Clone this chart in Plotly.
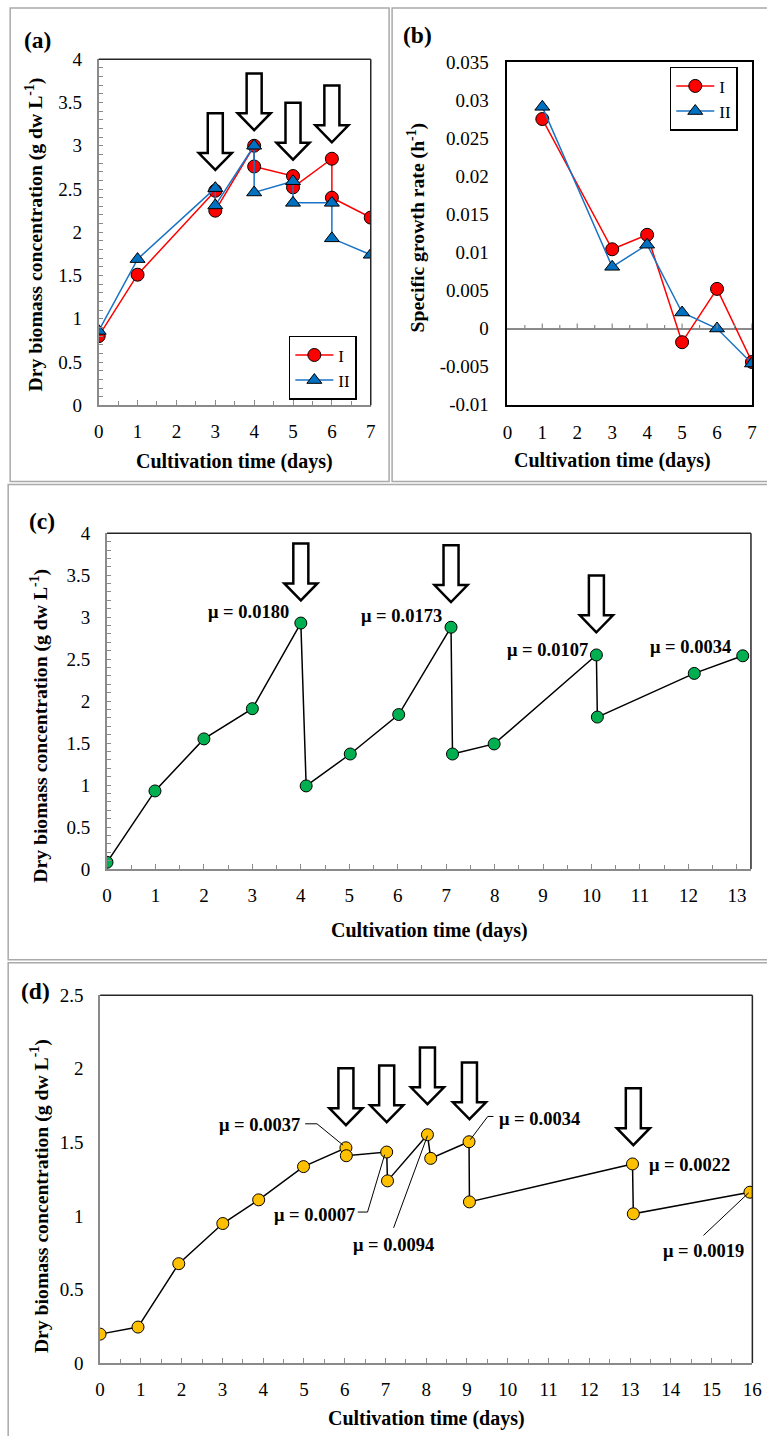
import numpy as np
import plotly.graph_objects as go

# Measured from earlier renders: the captured picture spans the figure plus an
# 8 px page margin on a 783x1452 area that is then fitted to 767x1436.
REF_W, REF_H = 767, 1436
OFF = 8
SX, SY = (REF_W + 2 * OFF) / REF_W, (REF_H + 2 * OFF) / REF_H
W, H = REF_W + OFF, REF_H + OFF
FONT = "Liberation Serif"
AXGRAY = "#8a8a8a"
FRAMEGRAY = "#a9a9a9"

# ---------------- data ----------------
# (a) dry biomass, two runs
a_days_I = [0, 1, 3, 3, 4, 4, 5, 5, 6, 6, 7]
a_bio_I = [0.80, 1.51, 2.48, 2.25, 3.00, 2.76, 2.65, 2.52, 2.85, 2.40, 2.17]
a_days_II = [0, 1, 3, 3, 4, 4, 5, 5, 6, 6, 7]
a_bio_II = [0.86, 1.69, 2.51, 2.31, 3.00, 2.46, 2.59, 2.34, 2.34, 1.93, 1.74]
a_arrow_days = [3, 4, 5, 6]
a_arrow_tip = [2.72, 3.18, 2.84, 3.04]

# (b) specific growth rate
b_days = [1, 3, 4, 5, 6, 7]
b_mu_I = [0.0275, 0.0104, 0.0123, -0.0018, 0.0052, -0.0044]
b_mu_II = [0.0291, 0.0081, 0.0110, 0.0021, 0.0000, -0.0046]

# (c) repeated batch
c_days = [0, 0.99, 2.0, 3.0, 4.0, 4.11, 5.02, 6.02, 7.1, 7.13, 7.99, 10.1, 10.12, 12.12, 13.12]
c_bio = [0.08, 0.93, 1.55, 1.91, 2.93, 0.99, 1.37, 1.84, 2.88, 1.37, 1.49, 2.55, 1.81, 2.33, 2.54]
c_arrow_days = [4.0, 7.1, 10.1]
c_arrow_tip = [3.20, 3.18, 2.82]
c_mu_labels = ["μ = 0.0180", "μ = 0.0173", "μ = 0.0107", "μ = 0.0034"]
c_mu_x = [2.93, 6.07, 9.09, 12.05]
c_mu_y = [3.06, 3.01, 2.61, 2.64]

# (d) repeated batch
d_days = [0, 0.93, 1.93, 3.01, 3.89, 4.99, 6.03, 6.04, 7.03, 7.05, 8.03, 8.11, 9.05, 9.06,
          13.06, 13.08, 15.94]
d_bio = [0.196, 0.244, 0.675, 0.948, 1.109, 1.335, 1.463, 1.409, 1.434, 1.238, 1.552, 1.391,
         1.504, 1.095, 1.353, 1.014, 1.161]
d_arrow_days = [6.03, 7.03, 8.03, 9.06, 13.08]
d_arrow_tip = [1.617, 1.637, 1.759, 1.657, 1.481]
d_mu_labels = ["μ = 0.0037", "μ = 0.0007", "μ = 0.0094", "μ = 0.0034", "μ = 0.0022", "μ = 0.0019"]
d_mu_x = [3.91, 5.25, 7.20, 10.77, 14.46, 14.81]
d_mu_y = [1.617, 1.006, 0.804, 1.658, 1.346, 0.763]
# leader lines (text -> point)
d_leaders = [
    [(5.03, 1.626), (5.32, 1.626), (5.96, 1.481)],
    [(6.32, 1.026), (6.56, 1.026), (6.98, 1.416)],
    [(7.20, 0.919), (8.03, 1.545)],
    [(9.65, 1.676), (9.51, 1.676), (9.08, 1.518)],
    [(14.80, 0.867), (15.91, 1.157)],
]

# tick labels
x_ticks_a = list(range(0, 8))
y_ticks_a = [0, 0.5, 1, 1.5, 2, 2.5, 3, 3.5, 4]
y_text_a = ["0", "0.5", "1", "1.5", "2", "2.5", "3", "3.5", "4"]
y_ticks_b = [-0.01, -0.005, 0, 0.005, 0.01, 0.015, 0.02, 0.025, 0.03, 0.035]
y_text_b = ["-0.01", "-0.005", "0", "0.005", "0.01", "0.015", "0.02", "0.025", "0.03", "0.035"]
x_ticks_c = list(range(0, 14))
x_ticks_d = list(range(0, 17))
y_ticks_d = [0, 0.5, 1, 1.5, 2, 2.5]
y_text_d = ["0", "0.5", "1", "1.5", "2", "2.5"]

# ---------------- geometry (reference-picture pixels) ----------------
G = {
    "a": dict(L=101.3, R=372.7, T=57.3, B=404.7, xr=[0, 7], yr=[0, 4]),
    "b": dict(L=509, R=753, T=60, B=404, xr=[0, 7], yr=[-0.01, 0.035]),
    "c": dict(L=109.6, R=752, T=533, B=870, xr=[0, 13.29], yr=[0, 4]),
    "d": dict(L=102.7, R=753.4, T=996.7, B=1365.7, xr=[0, 16], yr=[0, 2.5]),
}


def px(p):
    return (p * SX - OFF) / W


def py(p):
    return 1 - (p * SY - OFF) / H


def scales(g):
    xs = (g["xr"][1] - g["xr"][0]) / ((g["R"] - g["L"]) * SX)
    ys = (g["yr"][1] - g["yr"][0]) / ((g["B"] - g["T"]) * SY)
    return xs, ys


tickfont = dict(family=FONT, size=19, color="black")

fig = go.Figure()

# (a)
fig.add_trace(go.Scatter(x=a_days_I, y=a_bio_I, mode="lines+markers", name="I",
                         line=dict(color="#ff0000", width=1.5),
                         marker=dict(symbol="circle", size=13, color="#ff0000",
                                     line=dict(color="black", width=1)),
                         xaxis="x", yaxis="y", legend="legend"))
fig.add_trace(go.Scatter(x=a_days_II, y=a_bio_II, mode="lines+markers", name="II",
                         line=dict(color="#1a73c4", width=1.5),
                         marker=dict(symbol="triangle-up", size=13, color="#0070c0",
                                     line=dict(color="black", width=1)),
                         xaxis="x", yaxis="y", legend="legend"))
# (b)
fig.add_trace(go.Scatter(x=b_days, y=b_mu_I, mode="lines+markers", name="I",
                         line=dict(color="#ff0000", width=1.5),
                         marker=dict(symbol="circle", size=13, color="#ff0000",
                                     line=dict(color="black", width=1)),
                         xaxis="x2", yaxis="y2", legend="legend2"))
fig.add_trace(go.Scatter(x=b_days, y=b_mu_II, mode="lines+markers", name="II",
                         line=dict(color="#1a73c4", width=1.5),
                         marker=dict(symbol="triangle-up", size=13, color="#0070c0",
                                     line=dict(color="black", width=1)),
                         xaxis="x2", yaxis="y2", legend="legend2"))
# (c)
fig.add_trace(go.Scatter(x=c_days, y=c_bio, mode="lines+markers", showlegend=False,
                         line=dict(color="black", width=1.5),
                         marker=dict(symbol="circle", size=12, color="#00b050",
                                     line=dict(color="black", width=1)),
                         xaxis="x3", yaxis="y3"))
# (d)
fig.add_trace(go.Scatter(x=d_days, y=d_bio, mode="lines+markers", showlegend=False,
                         line=dict(color="black", width=1.5),
                         marker=dict(symbol="circle", size=12, color="#ffc000",
                                     line=dict(color="black", width=1)),
                         xaxis="x4", yaxis="y4"))


def xaxis_cfg(g, tickvals, standoff=8, minor=0.5, line=AXGRAY):
    return dict(domain=[px(g["L"]), px(g["R"])], range=g["xr"], showgrid=False, zeroline=False,
                showline=True, linecolor=line, linewidth=1.8,
                tickmode="array", tickvals=tickvals, ticktext=[str(v) for v in tickvals],
                ticks="inside", ticklen=5, tickwidth=1.2, tickcolor=AXGRAY,
                minor=dict(dtick=minor, ticks="inside", ticklen=4, tickwidth=1.2,
                           tickcolor=AXGRAY, showgrid=False),
                tickfont=tickfont, ticklabelstandoff=standoff, fixedrange=True)


def yaxis_cfg(g, tickvals, ticktext, standoff=11, minor=0.1, ticks="inside"):
    d = dict(domain=[py(g["B"]), py(g["T"])], range=g["yr"], showgrid=False, zeroline=False,
             showline=True, linecolor=AXGRAY, linewidth=1.8,
             tickmode="array", tickvals=tickvals, ticktext=ticktext,
             ticks=ticks, ticklen=4, tickwidth=1.2, tickcolor=AXGRAY,
             tickfont=tickfont, ticklabelstandoff=standoff, fixedrange=True)
    if minor:
        d["minor"] = dict(dtick=minor, ticks="inside", ticklen=4, tickwidth=1.2,
                          tickcolor=AXGRAY, showgrid=False)
    return d


xa = xaxis_cfg(G["a"], x_ticks_a)
xa["anchor"] = "y"
ya = yaxis_cfg(G["a"], y_ticks_a, y_text_a)
ya["anchor"] = "x"

xb = dict(domain=[px(G["b"]["L"]), px(G["b"]["R"])], range=G["b"]["xr"], showgrid=False,
          zeroline=False, showline=True, linecolor="black", linewidth=1.5, mirror=True,
          tickmode="array", tickvals=x_ticks_a, ticktext=[str(v) for v in x_ticks_a],
          ticks="", tickfont=tickfont, ticklabelstandoff=10, anchor="y2", fixedrange=True)
yb = dict(domain=[py(G["b"]["B"]), py(G["b"]["T"])], range=G["b"]["yr"], showgrid=False,
          zeroline=True, zerolinecolor=AXGRAY, zerolinewidth=1.5,
          showline=True, linecolor="black", linewidth=1.5, mirror=True,
          tickmode="array", tickvals=y_ticks_b, ticktext=y_text_b, ticks="",
          tickfont=tickfont, ticklabelstandoff=13, anchor="x2", fixedrange=True)

xc = xaxis_cfg(G["c"], x_ticks_c)
xc["anchor"] = "y3"
yc = yaxis_cfg(G["c"], y_ticks_a, y_text_a)
yc["anchor"] = "x3"

xd = xaxis_cfg(G["d"], x_ticks_d)
xd["anchor"] = "y4"
yd = yaxis_cfg(G["d"], y_ticks_d, y_text_d, ticks="", minor=None, standoff=11)
yd["anchor"] = "x4"

shapes = []

# panel borders
for (x0, y0, x1, y1) in [(13, 6, 391, 481), (394, 6, 790, 481), (11, 484, 790, 961), (11, 964, 790, 1460)]:
    shapes.append(dict(type="rect", xref="paper", yref="paper", x0=px(x0), x1=px(x1),
                       y0=py(y1), y1=py(y0), line=dict(color=FRAMEGRAY, width=1.5),
                       fillcolor="rgba(0,0,0,0)", layer="below"))

# top / right frame lines of a, c, d
for xr_, yr_ in [("x", "y"), ("x3", "y3"), ("x4", "y4")]:
    shapes.append(dict(type="line", xref=f"{xr_} domain", yref=f"{yr_} domain",
                       x0=0, x1=1, y0=1, y1=1, line=dict(color="#262626", width=1.5)))
    shapes.append(dict(type="line", xref=f"{xr_} domain", yref=f"{yr_} domain",
                       x0=1, x1=1, y0=0, y1=1, line=dict(color="#262626", width=1.5)))

# tick marks on zero line in (b)
for t in np.arange(0.5, 7.01, 0.5):
    ln = 5 if abs(t - round(t)) < 1e-9 else 3.5
    shapes.append(dict(type="line", xref="x2", yref="y2", x0=t, x1=t, ysizemode="pixel",
                       yanchor=0, y0=0, y1=ln, line=dict(color=AXGRAY, width=1.2)))


def arrow_path(xc_, ytip, g):
    xs, ys = scales(g)
    hw, sw, hh, hgt = 16.5 * SX, 7.5 * SX, 17 * SY, 57 * SY
    pts = [(0, 0), (-hw, hh), (-sw, hh), (-sw, hgt), (sw, hgt), (sw, hh), (hw, hh)]
    s = ""
    for i, (dx, dy) in enumerate(pts):
        s += ("M" if i == 0 else "L") + f"{xc_ + dx * xs},{ytip + dy * ys} "
    return s + "Z"


for key, xr_, yr_, days, tips in [("a", "x", "y", a_arrow_days, a_arrow_tip),
                                  ("c", "x3", "y3", c_arrow_days, c_arrow_tip),
                                  ("d", "x4", "y4", d_arrow_days, d_arrow_tip)]:
    for xv, tv in zip(days, tips):
        shapes.append(dict(type="path", xref=xr_, yref=yr_, path=arrow_path(xv, tv, G[key]),
                           fillcolor="white", line=dict(color="black", width=2.5)))

# leader lines (d)
for pts in d_leaders:
    s = " ".join(("M" if i == 0 else "L") + f"{x},{y}" for i, (x, y) in enumerate(pts))
    shapes.append(dict(type="path", xref="x4", yref="y4", path=s,
                       line=dict(color="black", width=1)))

annotations = []


def add_text(text, x, y, size, angle=0, xref="paper", yref="paper", xanchor="center"):
    annotations.append(dict(text=text, x=x, y=y, xref=xref, yref=yref, showarrow=False,
                            textangle=angle, xanchor=xanchor, yanchor="middle",
                            font=dict(family=FONT, size=size, color="black", weight="bold")))


# panel labels
add_text("(a)", px(40), py(38), 23.5)
add_text("(b)", px(419), py(33), 23.5)
add_text("(c)", px(45), py(521), 23.5)
add_text("(d)", px(38), py(992), 23.5)

# axis titles
xt = "Cultivation time (days)"
yt = "Dry biomass concentration (g dw L<sup>-1</sup>)"
TS = 20
YS = 19.7
add_text(xt, px(237), py(461), TS)
add_text(xt, px(614), py(460), TS)
add_text(xt, px(431), py(932), TS)
add_text(xt, px(428), py(1421), TS)
add_text(yt, px(37), py(233), YS, angle=-90)
add_text("Specific growth rate (h<sup>-1</sup>)", px(418), py(226), YS, angle=-90)
add_text(yt, px(42), py(726), YS, angle=-90)
add_text(yt, px(43), py(1198), YS, angle=-90)

# mu labels
for t, x, y in zip(c_mu_labels, c_mu_x, c_mu_y):
    add_text(t, x, y, 18.5, xref="x3", yref="y3")
for t, x, y in zip(d_mu_labels, d_mu_x, d_mu_y):
    add_text(t, x, y, 18.5, xref="x4", yref="y4")

legend_common = dict(bgcolor="white", bordercolor="black", borderwidth=1.5,
                     font=dict(family=FONT, size=17, color="black"),
                     xanchor="left", yanchor="top", tracegroupgap=0, itemwidth=38,
                     itemclick=False, itemdoubleclick=False)

fig.update_layout(
    width=W, height=H, margin=dict(l=0, r=0, t=0, b=0),
    paper_bgcolor="white", plot_bgcolor="white",
    font=dict(family=FONT, size=18, color="black"),
    xaxis=xa, yaxis=ya, xaxis2=xb, yaxis2=yb, xaxis3=xc, yaxis3=yc, xaxis4=xd, yaxis4=yd,
    legend=dict(x=px(291), y=py(335), **legend_common),
    legend2=dict(x=px(671), y=py(65), **legend_common),
    shapes=shapes, annotations=annotations, hovermode=False,
)

fig.write_html("out.html")
